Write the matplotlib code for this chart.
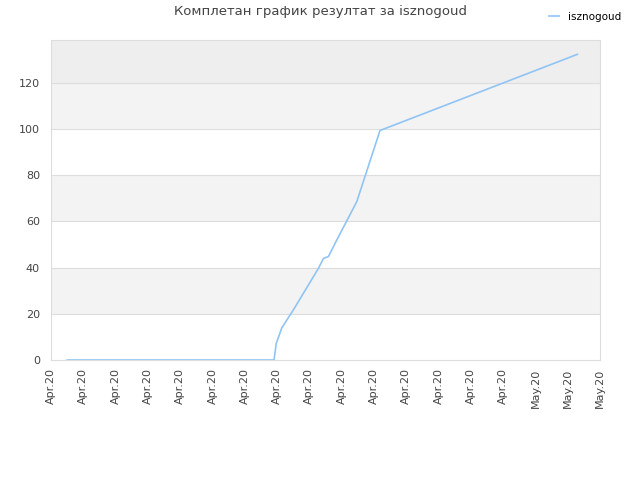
import matplotlib
matplotlib.use("Agg")
import matplotlib.pyplot as plt
import matplotlib.dates as mdates
import pandas as pd

# values
times = ["2020-04-02 00:00", "2020-04-14 19:30", "2020-04-14 22:50",
         "2020-04-15 07:00", "2020-04-16 00:15", "2020-04-17 13:30",
         "2020-04-17 21:00", "2020-04-18 04:20", "2020-04-18 16:50",
         "2020-04-19 22:30", "2020-04-21 09:00", "2020-05-03 14:25"]
scores = [0, 0, 7.2, 13.9, 21.7, 39.7, 44.0, 44.8, 52.0, 68.6, 99.4, 132.4]
player = "isznogoud"
title = "Комплетан график резултат за isznogoud"

x = pd.to_datetime(times)
ticks = pd.date_range("2020-04-01", "2020-05-05", freq="2D")

fig = plt.figure(figsize=(6.4, 4.8), dpi=100)
ax = fig.add_axes([51 / 640, 120 / 480, 549 / 640, 320 / 480])

ymax = 138.6
# alternating background bands
bands = [(20, 40), (60, 80), (100, 120)]
for lo, hi in bands:
    ax.axhspan(lo, hi, color="#f3f3f3", zorder=0, lw=0)
ax.axhspan(120, ymax, color="#eeeeee", zorder=0, lw=0)
for yv in range(20, 140, 20):
    ax.axhline(yv, color="#dddddd", lw=0.8, zorder=1)

ax.plot(x, scores, color="#90c4f5", lw=1.2, label=player, zorder=3)

ax.set_xlim(ticks[0], ticks[-1])
ax.set_ylim(0, ymax)
ax.set_xticks(ticks)
ax.xaxis.set_major_formatter(mdates.DateFormatter("%b.%y"))
ax.set_yticks(range(0, 140, 20))
ax.tick_params(axis="x", rotation=90, labelsize=8, colors="#444444", length=0, pad=6)
ax.tick_params(axis="y", labelsize=8, colors="#444444", length=0, pad=8)
for s in ax.spines.values():
    s.set_color("#dddddd")

fig.text(0.5, 0.975, title, ha="center", va="center", fontsize=9.5, color="#444444")
fig.legend(loc="upper right", bbox_to_anchor=(0.985, 0.995), frameon=False,
           fontsize=7.5, handlelength=1.0, handletextpad=0.8)

fig.savefig("out.png", dpi=100)
